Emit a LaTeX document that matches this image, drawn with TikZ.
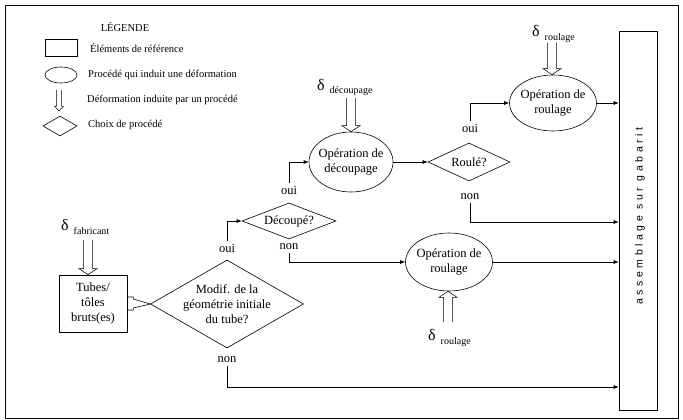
\documentclass[tikz,border=0pt]{standalone}
\usepackage{fontspec}
\setmainfont{Liberation Serif}
\newfontfamily\spacedsans[LetterSpace=34]{Liberation Sans}
\usetikzlibrary{shapes.geometric,arrows.meta,calc}

\tikzset{
  lw/.style={line width=0.6pt},
  arr/.style={lw, -{Latex[length=5pt,width=4pt]}},
  ell/.style={draw, lw, ellipse, inner sep=0pt},
  dia/.style={draw, lw, diamond, inner sep=0pt},
  box/.style={draw, lw, rectangle, inner sep=0pt},
  txt/.style={align=center, font=\fontsize{12.5}{15}\selectfont, inner sep=0pt},
  lab/.style={font=\fontsize{12.5}{15}\selectfont, inner sep=3pt},
  leg/.style={font=\fontsize{10.5}{12}\selectfont, anchor=west, inner sep=0pt},
  dlab/.style={anchor=base west, inner sep=0pt},
}

% hollow double arrow: #1 start, #2 end (tip), #3 direction (1 = tip below base in picture, -1 = tip above),
% #4 half width of shaft, #5 half width of head, #6 head length
\newcommand\hollowarrow[6]{%
  \draw[line width=0.5pt] let \p1=(#1), \p2=(#2) in
    ({\x1-#4},{\y1}) -- ({\x1-#4},{\y2+(#3)*#6}) -- ({\x1-#5},{\y2+(#3)*#6}) -- ({\x1},{\y2})
    -- ({\x1+#5},{\y2+(#3)*#6}) -- ({\x1+#4},{\y2+(#3)*#6}) -- ({\x1+#4},{\y1});}

\newcommand\dsub[2]{{\fontsize{16}{16}\selectfont δ}\hspace{5pt}\raisebox{-4pt}{\fontsize{10}{12}\selectfont #2}}

\begin{document}
\begin{tikzpicture}[x=1pt, y=-1pt]
  \useasboundingbox (0,0) rectangle (683,420);
  \draw[line width=0.8pt] (5,5) rectangle (678,418);

  % ---- legend ----
  \node[font=\fontsize{10.5}{12}\selectfont, inner sep=0pt] (legt) at (125,27) {LÉGENDE};
  \node[box, minimum width=32pt, minimum height=17pt] (lrect) at (61,47.5) {};
  \node[leg] (l1) at (90,48) {Éléments de référence};
  \node[ell, minimum width=32pt, minimum height=16pt] (lell) at (61,75) {};
  \node[leg] (l2) at (88,75) {Procédé qui induit une déformation};
  \coordinate (la1) at (59,90);
  \coordinate (la2) at (59,111);
  \hollowarrow{la1}{la2}{1}{2.5}{4.5}{5}
  \node[leg] (l3) at (87,100) {Déformation induite par un procédé};
  \node[dia, minimum width=34pt, minimum height=20pt] (ldia) at (60,126) {};
  \node[leg] (l4) at (88,125) {Choix de procédé};

  % ---- main nodes ----
  \node[box, minimum width=68pt, minimum height=57pt] (tb) at (93,303.5) {};
  \node[txt] (tbt) at (tb) {Tubes/\\tôles\\bruts(es)};

  \node[dia, minimum width=153pt, minimum height=88pt] (mod) at (227,304) {};
  \node[txt] (modt) at (mod) {Modif. de la\\géométrie initiale\\du tube?};

  \node[dia, minimum width=94pt, minimum height=36pt] (dcp) at (289,221) {};
  \node[txt] (dcpt) at (dcp) {Découpé?};

  \node[ell, minimum width=84pt, minimum height=60pt] (dec) at (351,162) {};
  \node[txt] (dect) at (dec) {Opération de\\découpage};

  \node[dia, minimum width=82pt, minimum height=38pt] (rol) at (469,162) {};
  \node[txt] (rolt) at (rol) {Roulé?};

  \node[ell, minimum width=87pt, minimum height=56pt] (rl1) at (553,103) {};
  \node[txt] (rl1t) at (rl1) {Opération de\\roulage};

  \node[ell, minimum width=87pt, minimum height=58pt] (rl2) at (449,262) {};
  \node[txt] (rl2t) at (rl2) {Opération de\\roulage};

  \node[box, minimum width=38pt, minimum height=379pt] (asm) at (638,220.5) {};
  \node[rotate=90, inner sep=0pt, font=\spacedsans\fontsize{10.5}{12}\selectfont] (asmt) at (640,216) {assemblage sur gabarit};

  % ---- oui / non labels ----
  \node[lab] (oui1) at (227,248) {oui};
  \node[lab] (non1) at (227,360) {non};
  \node[lab] (oui2) at (289,190) {oui};
  \node[lab] (non2) at (289,247) {non};
  \node[lab] (oui3) at (470,128) {oui};
  \node[lab] (non3) at (470,197) {non};

  % ---- delta labels ----
  \node[dlab] (dfab) at (61,230) {\dsub{}{fabricant}};
  \node[dlab] (ddec) at (317,90) {\dsub{}{découpage}};
  \node[dlab] (drl1) at (532,37) {\dsub{}{roulage}};
  \node[dlab] (drl2) at (428,340) {\dsub{}{roulage}};

  \coordinate (fa) at (88,240);
  \coordinate (da) at (351,98);
  \coordinate (ra) at (552,43);
  \coordinate (rb) at (448,322);
  \hollowarrow{fa}{tb.north}{1}{4.5}{9}{6}
  \hollowarrow{da}{dec.north}{1}{4.5}{9}{6}
  \hollowarrow{ra}{rl1.north}{1}{4.5}{9}{6}
  \hollowarrow{rb}{rl2.south}{-1}{4.5}{9}{6}

  % ---- connectors ----
  \draw[lw] ([yshift=6.5pt]tb.east) -- ++(6,0) -- ++(0,2) -- (mod.west);
  \draw[lw] ([yshift=-6.5pt]tb.east) -- ++(6,0) -- ++(0,-2) -- (mod.west);

  \coordinate (j1) at (0,387);
  \coordinate (j3) at (0,222);
  \draw[arr] (oui1.north) |- (dcp.west);
  \draw[arr] (non1.south) |- (asm.west |- j1);
  \draw[arr] (oui2.north) |- (dec.west);
  \draw[arr] (non2.south) |- (rl2.west);
  \draw[arr] (dec.east) -- (rol.west);
  \draw[arr] (oui3.north) |- (rl1.west);
  \draw[arr] (non3.south) |- (asm.west |- j3);
  \draw[arr] (rl1.east) -- (asm.west |- rl1.east);
  \draw[arr] (rl2.east) -- (asm.west |- rl2.east);
\end{tikzpicture}
\end{document}
